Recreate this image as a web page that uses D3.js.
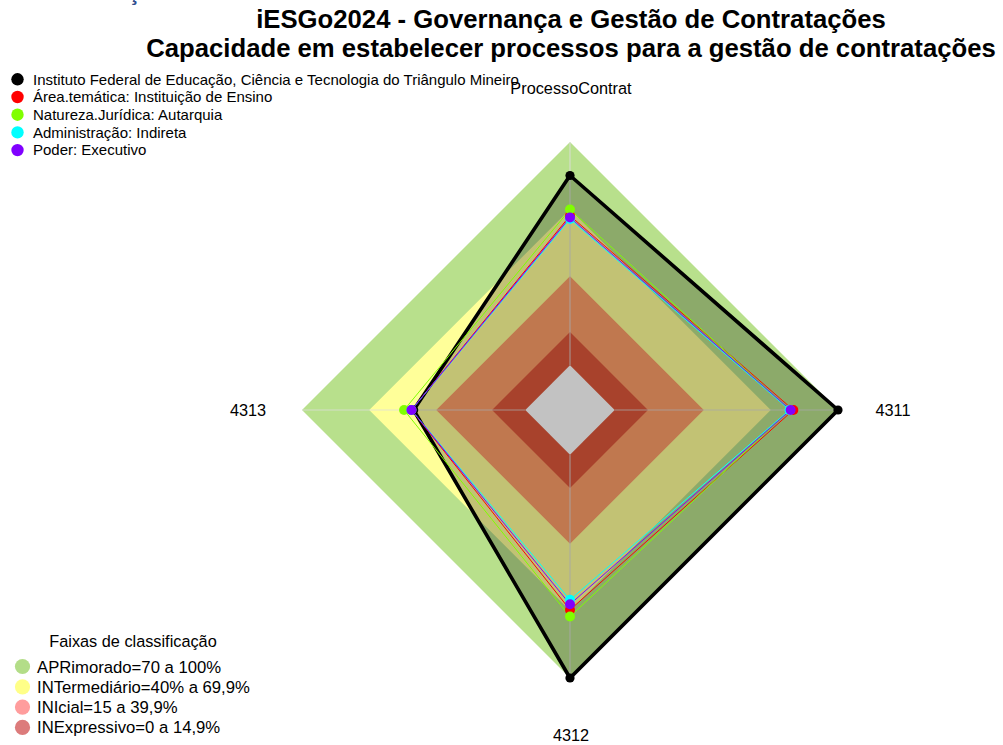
<!DOCTYPE html>
<html>
<head>
<meta charset="utf-8">
<script src="https://cdn.jsdelivr.net/npm/d3@7"></script>
<style>
  html, body { margin: 0; padding: 0; background: #ffffff; }
  svg text { font-family: "Liberation Sans", Arial, sans-serif; }
</style>
</head>
<body>
<svg id="chart" width="1003" height="745"></svg>
<script>
// Radar axes, clockwise from the top
const axes = ["ProcessoContrat", "4311", "4312", "4313"];

// Series (percent scores on each axis)
const seriesNames = [
  "Instituto Federal de Educação, Ciência e Tecnologia do Triângulo Mineiro",
  "Área.temática: Instituição de Ensino",
  "Natureza.Jurídica: Autarquia",
  "Administração: Indireta",
  "Poder: Executivo"
];
const seriesColors = ["#000000", "#ff0000", "#80ff00", "#00ffff", "#8000ff"];
const instituicao   = [85, 100, 100, 50];
const areaTematica  = [67, 80, 69.5, 51];
const naturezaJur   = [69.8, 78.5, 72.5, 54.3];
const administracao = [65.5, 78.3, 65, 51];
const poder         = [66.2, 78.8, 67, 51];
const seriesValues = [instituicao, areaTematica, naturezaJur, administracao, poder];

// Classification bands (upper limit of each band)
const bandLimits = [100, 69.9, 39.9, 14.9];
const bandFills  = ["#b8e08c", "#ffff99", "#fd9e69", "#dd573a"];
const bandLabels = ["APRimorado=70 a 100%", "INTermediário=40% a 69,9%", "INIcial=15 a 39,9%", "INExpressivo=0 a 14,9%"];
const bandKeyColors = ["#b3dd88", "#ffff88", "#ff9d9d", "#dc7b7b"];

const titleLines = [
  "iESGo2024 - Governança e Gestão de Contratações",
  "Capacidade em estabelecer processos para a gestão de contratações"
];

const svg = d3.select("#chart");
const cx = 570, cy = 410, R = 268;

// radial scale with an inner offset (1/6 of the radius) for the zero level
const r = d3.scaleLinear().domain([0, 100]).range([R / 6, R]);
const angle = d3.scaleBand().domain(axes).range([0, 2 * Math.PI]).paddingInner(0).paddingOuter(0).align(0);

const pt = (axis, v) => {
  const a = angle(axis);
  return [cx + r(v) * Math.sin(a), cy - r(v) * Math.cos(a)];
};
const line = d3.line().curve(d3.curveLinearClosed);
const polyOf = vals => line(axes.map((a, i) => pt(a, vals[i])));

// stacked bands, outermost first
bandLimits.forEach((lim, i) => {
  svg.append("path")
    .attr("d", polyOf(axes.map(() => lim)))
    .attr("fill", bandFills[i]);
});
// empty core
svg.append("path").attr("d", polyOf(axes.map(() => 0))).attr("fill", "#ffffff");

// axis spokes
axes.forEach(a => {
  const p0 = pt(a, 0), p1 = pt(a, 100);
  svg.append("line")
    .attr("x1", p0[0]).attr("y1", p0[1]).attr("x2", p1[0]).attr("y2", p1[1])
    .attr("stroke", "#dcdcdc").attr("stroke-opacity", 0.75).attr("stroke-width", 1.2);
});

// series polygons
seriesValues.forEach((vals, s) => {
  svg.append("path")
    .attr("d", polyOf(vals))
    .attr("fill", s === 0 ? "rgba(0,0,0,0.24)" : "none")
    .attr("stroke", seriesColors[s])
    .attr("stroke-width", s === 0 ? 3.6 : 1)
    .attr("stroke-linejoin", "miter");
});
seriesValues.forEach((vals, s) => {
  svg.append("g").selectAll("circle")
    .data(vals.map((v, i) => pt(axes[i], v)))
    .join("circle")
    .attr("cx", d => d[0]).attr("cy", d => d[1])
    .attr("r", s === 0 ? 4.6 : 5)
    .attr("fill", seriesColors[s]);
});

// axis labels
const labelPos = [[571, 94], [893, 416], [571, 741], [248, 416]];
axes.forEach((a, i) => {
  svg.append("text")
    .attr("x", labelPos[i][0]).attr("y", labelPos[i][1])
    .attr("text-anchor", "middle")
    .attr("font-size", 16.3).attr("fill", "#000")
    .text(a);
});

// title
svg.append("text").attr("x", 128).attr("y", 0)
  .attr("font-size", 22).attr("font-weight", "bold").attr("fill", "#2f4f8f").text("ç");
titleLines.forEach((t, i) => {
  svg.append("text")
    .attr("x", 571).attr("y", 27.5 + i * 29)
    .attr("text-anchor", "middle")
    .attr("font-size", 25.7).attr("font-weight", "bold").attr("fill", "#000")
    .text(t);
});

// series legend
const leg = svg.append("g");
seriesNames.forEach((n, i) => {
  const y = 79.3 + i * 17.7;
  leg.append("circle").attr("cx", 17.5).attr("cy", y).attr("r", 6.2).attr("fill", seriesColors[i]);
  leg.append("text").attr("x", 33).attr("y", y + 5.3).attr("font-size", 15).attr("fill", "#000").text(n);
});

// classification legend
const bl = svg.append("g");
bl.append("text").attr("x", 133).attr("y", 646.5).attr("text-anchor", "middle")
  .attr("font-size", 16.3).attr("fill", "#000").text("Faixas de classificação");
bandLabels.forEach((n, i) => {
  const y = 666.5 + i * 20.3;
  bl.append("circle").attr("cx", 22.5).attr("cy", y).attr("r", 7.6).attr("fill", bandKeyColors[i]);
  bl.append("text").attr("x", 37).attr("y", y + 6).attr("font-size", 16.7).attr("fill", "#000").text(n);
});
</script>
</body>
</html>
